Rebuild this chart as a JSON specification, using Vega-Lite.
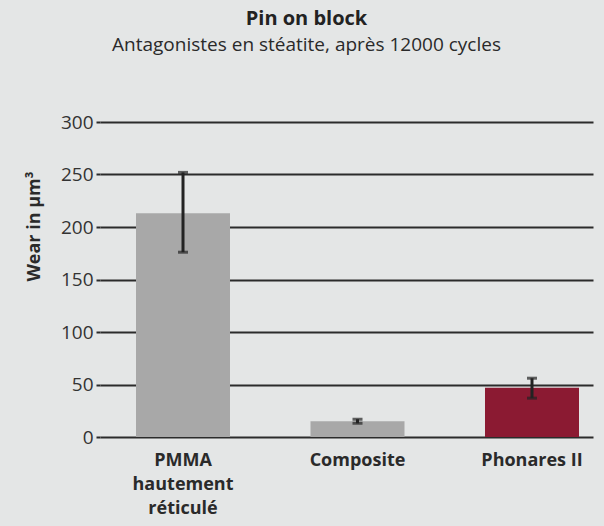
{
  "$schema": "https://vega.github.io/schema/vega-lite/v6.json",
  "width": 493,
  "height": 315,
  "autosize": "none",
  "padding": {"left": 100, "top": 122, "right": 11, "bottom": 89},
  "background": "#e4e6e6",
  "config": {
    "view": {"stroke": null},
    "font": "Open Sans"
  },
  "title": {
    "text": "Pin on block",
    "subtitle": "Antagonistes en stéatite, après 12000 cycles",
    "anchor": "middle",
    "frame": "group",
    "dx": -40,
    "offset": 58,
    "font": "Open Sans",
    "fontSize": 20,
    "fontWeight": "bold",
    "color": "#222222",
    "subtitleFont": "Open Sans",
    "subtitleFontSize": 19,
    "subtitleColor": "#2a2a2a",
    "subtitlePadding": 7
  },
  "data": {
    "values": [
      {"material": "PMMA hautement réticulé", "wear": 213, "lo": 176, "hi": 252},
      {"material": "Composite", "wear": 15, "lo": 13, "hi": 17},
      {"material": "Phonares II", "wear": 47, "lo": 37, "hi": 56}
    ]
  },
  "encoding": {
    "x": {
      "field": "material",
      "type": "nominal",
      "sort": null,
      "scale": {"paddingInner": 0.4613, "paddingOuter": 0.1433, "align": 0.72},
      "axis": {
        "title": null,
        "labelAngle": 0,
        "domain": false,
        "ticks": false,
        "labelFont": "Open Sans",
        "labelFontSize": 18,
        "labelFontWeight": "bold",
        "labelColor": "#2a2a2a",
        "labelPadding": 14,
        "labelLineHeight": 24,
        "labelExpr": "datum.value == 'PMMA hautement réticulé' ? ['PMMA', 'hautement', 'réticulé'] : datum.label"
      }
    }
  },
  "layer": [
    {
      "mark": {"type": "bar"},
      "encoding": {
        "y": {
          "field": "wear",
          "type": "quantitative",
          "scale": {"domain": [0, 300], "nice": false},
          "axis": {
            "title": "Wear in µm³",
            "titleFont": "Open Sans",
            "titleFontSize": 18,
            "titleFontWeight": "bold",
            "titleColor": "#2a2a2a",
            "titleY": 104,
            "titleX": -57,
            "values": [0, 50, 100, 150, 200, 250, 300],
            "domain": false,
            "grid": true,
            "gridColor": "#2b2b2b",
            "gridWidth": 2,
            "gridOpacity": 1,
            "ticks": true,
            "tickSize": 4,
            "tickColor": "#2b2b2b",
            "tickWidth": 2,
            "labelFont": "Open Sans",
            "labelFontSize": 19,
            "labelColor": "#333333",
            "labelPadding": 3
          }
        },
        "color": {
          "field": "material",
          "type": "nominal",
          "scale": {
            "domain": ["PMMA hautement réticulé", "Composite", "Phonares II"],
            "range": ["#a8a8a8", "#a8a8a8", "#8b1a32"]
          },
          "legend": null
        }
      }
    },
    {
      "mark": {"type": "rule", "color": "#232323", "strokeWidth": 3},
      "encoding": {
        "y": {"field": "lo", "type": "quantitative"},
        "y2": {"field": "hi"}
      }
    },
    {
      "mark": {"type": "tick", "color": "#232323", "thickness": 3, "size": 10},
      "encoding": {"y": {"field": "lo", "type": "quantitative"}}
    },
    {
      "mark": {"type": "tick", "color": "#232323", "thickness": 3, "size": 10},
      "encoding": {"y": {"field": "hi", "type": "quantitative"}}
    }
  ]
}
